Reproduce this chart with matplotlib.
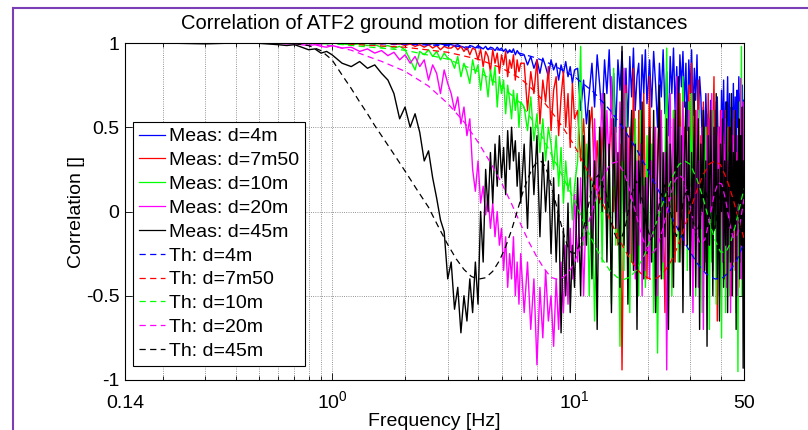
import numpy as np
import matplotlib
matplotlib.use("Agg")
import matplotlib.pyplot as plt
from matplotlib.lines import Line2D
from matplotlib.ticker import LogLocator, NullFormatter, FixedLocator

plt.rcParams['font.family'] = ['Liberation Sans', 'DejaVu Sans']
plt.rcParams['mathtext.fontset'] = 'custom'
plt.rcParams['mathtext.rm'] = 'Liberation Sans'
plt.rcParams['mathtext.it'] = 'Liberation Sans:italic'
plt.rcParams['mathtext.bf'] = 'Liberation Sans:bold'

# ---------------- data ----------------
FREQ = ([0.14, 0.2, 0.3, 0.4, 0.5, 0.6, 0.65, 0.7, 0.75, 0.8, 0.85, 0.9, 0.95]
        + [1.0, 1.1, 1.2, 1.3, 1.4, 1.5, 1.6, 1.7, 1.8, 1.9, 2.0, 2.1, 2.2, 2.3, 2.4, 2.5, 2.6, 2.7, 2.8, 2.9, 3.0]
        + [3.1, 3.2, 3.3, 3.4, 3.5, 3.6, 3.7, 3.8, 3.9, 4.0, 4.1, 4.2, 4.3, 4.4, 4.5, 4.6, 4.7, 4.8, 4.9, 5.0,
           5.1, 5.2, 5.3, 5.4, 5.5, 5.6, 5.7, 5.8, 5.9, 6.0]
        + [6.2, 6.4, 6.6, 6.8, 7.0, 7.2, 7.4, 7.6, 7.8, 8.0, 8.2, 8.4, 8.6, 8.8, 9.0, 9.2, 9.4, 9.6, 9.8, 10.0]
        + [10.3, 10.6, 10.9, 11.2, 11.5, 11.8, 12.1, 12.4, 12.7, 13.0, 13.3, 13.6, 13.9, 14.2, 14.5, 14.8, 15.1,
           15.4, 15.7, 16.0, 16.3, 16.6, 16.9, 17.2, 17.5, 17.8, 18.1, 18.4, 18.7, 19.0, 19.3, 19.6, 19.9]
        + [20.4, 20.8, 21.2, 21.6, 22.0, 22.4, 22.8, 23.2, 23.6, 24.0, 24.4, 24.8, 25.2]
        + [25.6, 26.0, 26.4, 26.8, 27.2, 27.6, 28.0, 28.4, 28.8, 29.2, 29.6, 30.0]
        + [30.4, 30.8, 31.2, 31.6, 32.0, 32.4, 32.8, 33.2, 33.6, 34.0, 34.4, 34.8, 35.2]
        + [35.6, 36.0, 36.4, 36.8, 37.2, 37.6, 38.0, 38.4, 38.8, 39.2, 39.6, 40.0]
        + [40.4, 40.8, 41.2, 41.6, 42.0, 42.4, 42.8, 43.2, 43.6, 44.0, 44.4, 44.8, 45.2, 45.6, 46.0, 46.4, 46.8,
           47.2, 47.6, 48.0, 48.4, 48.8, 49.2, 49.6, 50.0])

MEAS_4M = ([1, 1, 1, 1, 1, 1, 1, 1, 1, 1, 1, 1, 1]
           + [1, 1, 1, 1, 0.998, 1, 0.997, 1, 0.998, 0.995, 1, 0.996, 0.993, 0.998, 0.994, 0.99, 0.997, 0.992, 0.995, 0.99, 0.993]
           + [0.99, 0.985, 0.99, 0.98, 0.975, 0.96, 0.985, 0.98, 0.97, 0.985, 0.975, 0.965, 0.98, 0.96, 0.975,
              0.97, 0.955, 0.975, 0.96, 0.97, 0.95, 0.965, 0.94, 0.96, 0.945, 0.965, 0.93, 0.955, 0.94, 0.925]
           + [0.93, 0.87, 0.92, 0.85, 0.9, 0.82, 0.91, 0.86, 0.8, 0.9, 0.84, 0.88, 0.78, 0.87, 0.82, 0.89, 0.8, 0.86, 0.76, 0.84]
           + [0.85, 0.6, 0.78, 0.52, 0.7, 0.88, 0.62, 0.93, 0.75, 0.55, 0.9, 0.7, 0.96, 0.58, 0.82, 0.47, 0.9,
              0.72, 0.95, 0.63, 0.85, 0.5, 0.92, 0.68, 0.97, 0.6, 0.8, 0.88, 0.55, 0.93, 0.7, 0.96, 0.64]
           + [0.9, 0.62, 0.95, 0.75, 0.5, 0.88, 0.68, 0.96, 0.58, 0.83, 0.45, 0.92, 0.7]
           + [0.97, 0.6, 0.86, 0.52, 0.93, 0.74, 0.95, 0.62, 0.88, 0.48, 0.9, 0.7]
           + [0.96, 0.57, 0.85, 0.66, 0.93, 0.5, 0.8, 0.68, 0.4, 0.62, 0.3, 0.7, 0.45]
           + [0.58, 0.28, 0.66, 0.35, 0.55, 0.22, 0.6, 0.4, 0.68, 0.3, 0.5, 0.25]
           + [0.72, 0.4, 0.78, 0.3, 0.65, 0.5, 0.8, 0.35, 0.7, 0.25, 0.62, 0.45, 0.76, 0.33, 0.68, 0.2, 0.72,
              0.5, 0.8, 0.38, 0.7, 0.28, 0.75, 0.45, 0.66])

MEAS_7M50 = ([1, 1, 1, 1, 1, 1, 1, 1, 1, 1, 1, 1, 1]
             + [1, 1, 1, 0.998, 1, 0.997, 0.995, 1, 0.99, 0.996, 0.985, 0.995, 0.98, 0.99, 0.975, 0.99, 0.97, 0.985, 0.96, 0.98, 0.97]
             + [0.97, 0.985, 0.96, 0.98, 0.95, 0.975, 0.93, 0.97, 0.96, 0.9, 0.965, 0.86, 0.95, 0.92, 0.83,
                0.96, 0.88, 0.94, 0.82, 0.93, 0.87, 0.95, 0.8, 0.9, 0.85, 0.93, 0.78, 0.9, 0.83, 0.88]
             + [0.88, 0.6, 0.83, 0.7, 0.9, 0.52, 0.78, 0.65, 0.86, 0.48, 0.72, 0.8, 0.45, 0.68, 0.83, 0.5, 0.7, 0.38, 0.76, 0.55]
             + [0.6, 0.3, 0.55, 0.2, 0.48, 0.62, 0.15, 0.42, 0.05, 0.5, 0.25, -0.1, 0.35, 0.55, 0.0, 0.3, -0.2,
                0.4, -0.94, 0.2, 0.75, -0.1, 0.5, -0.3, 0.85, 0.1, -0.45, 0.6, 0.2, -0.25, 0.7, 0.05, -0.4]
             + [0.8, -0.2, 0.5, -0.5, 0.3, 0.65, -0.35, 0.1, -0.6, 0.45, -0.15, 0.2, -0.45]
             + [0.6, -0.3, 0.35, -0.1, 0.7, 0.05, -0.4, 0.5, 0.2, -0.2, 0.75, 0.15]
             + [0.88, 0.3, -0.1, 0.6, 0.2, 0.78, -0.2, 0.45, 0.1, 0.65, -0.3, 0.5, 0.2]
             + [0.7, 0.0, 0.55, -0.25, 0.4, 0.8, -0.1, 0.35, -0.65, 0.5, 0.15, 0.6]
             + [-0.2, 0.45, 0.05, -0.4, 0.6, 0.2, -0.3, 0.5, -0.1, 0.3, -0.5, 0.4, 0.0, 0.55, -0.35, 0.25, -0.15,
                0.45, -0.45, 0.3, 0.1, -0.3, 0.5, -0.2, 0.2])

MEAS_10M = ([1, 1, 1, 1, 1, 1, 1, 1, 1, 0.998, 1, 0.997, 0.995]
            + [1, 0.995, 0.99, 0.995, 0.985, 0.99, 0.975, 0.985, 0.97, 0.98, 0.96, 0.9, 0.84, 0.95, 0.93, 0.96, 0.92, 0.95, 0.9, 0.94, 0.91]
            + [0.9, 0.85, 0.92, 0.8, 0.88, 0.83, 0.76, 0.9, 0.82, 0.87, 0.72, 0.85, 0.8, 0.68, 0.84,
               0.75, 0.86, 0.62, 0.8, 0.7, 0.78, 0.58, 0.75, 0.66, 0.55, 0.72, 0.6, 0.7, 0.5, 0.65]
            + [0.62, 0.48, 0.68, 0.42, 0.58, 0.35, 0.55, 0.3, 0.5, 0.4, 0.25, 0.45, 0.15, 0.38, 0.05, 0.3, 0.12, 0.2, -0.05, 0.15]
            + [0.3, 0.98, -0.2, 0.4, -0.5, 0.2, -0.65, 0.1, 0.5, -0.3, 0.65, -0.1, 0.3, -0.55, 0.85, -0.2, 0.15,
               -0.8, 0.4, -0.35, 0.7, -0.1, -0.6, 0.35, -0.3, 0.55, 0.0, -0.5, 0.6, -0.2, 0.2, -0.45, 0.45]
            + [-0.3, 0.4, -0.6, 0.2, -0.84, 0.1, 0.5, -0.4, 0.3, 0.97, -0.2, 0.45, -0.5]
            + [0.6, 0.1, 0.75, -0.3, 0.5, 0.2, 0.8, 0.0, 0.55, -0.35, 0.65, 0.15]
            + [0.7, -0.2, 0.45, -0.5, 0.35, 0.6, -0.1, 0.25, -0.6, 0.4, 0.0, 0.5, -0.45]
            + [0.2, -0.7, 0.35, -0.3, 0.6, -0.1, 0.3, -0.55, 0.15, 0.45, -0.4, 0.1]
            + [-0.75, 0.3, -0.3, 0.2, -0.6, 0.5, -0.2, 0.35, -0.5, 0.1, 0.6, -0.35, 0.4, -0.1, 0.55, -0.6, 0.3,
               -0.95, 0.2, 0.65, -0.3, 0.98, -0.5, 0.3, -0.2])

MEAS_20M = ([1, 1, 1, 1, 1, 0.998, 0.995, 0.997, 0.99, 0.985, 0.99, 0.98, 0.975]
            + [0.985, 0.97, 0.975, 0.95, 0.965, 0.94, 0.955, 0.925, 0.945, 0.9, 0.93, 0.88, 0.92, 0.86, 0.9, 0.78, 0.87, 0.82, 0.7, 0.84, 0.76]
            + [0.7, 0.6, 0.68, 0.52, 0.62, 0.45, 0.55, 0.25, 0.12, 0.3, 0.05, 0.15, -0.02, 0.1, -0.1,
               0.05, -0.15, 0.0, -0.2, -0.1, -0.35, -0.15, -0.45, -0.25, -0.4, -0.15, -0.5, -0.3, -0.55, -0.25]
            + [-0.6, -0.3, -0.7, -0.4, -0.91, -0.45, -0.75, -0.35, -0.65, -0.5, -0.8, -0.4, -0.7, -0.3, -0.6, -0.2, -0.55, -0.1, -0.4, 0.1]
            + [-0.3, 0.2, -0.5, 0.1, 0.4, -0.2, 0.55, 0.1, 0.3, 0.7, 0.05, 0.6, 0.25, 0.8, 0.15, 0.5, -0.1,
               0.65, 0.3, 0.85, 0.0, 0.45, -0.25, 0.55, 0.1, -0.4, 0.3, -0.2, 0.4, -0.5, 0.15, -0.35, 0.2]
            + [-0.4, 0.3, -0.15, 0.5, -0.5, 0.1, 0.6, -0.3, 0.35, -0.94, 0.2, 0.7, 0.0]
            + [0.55, 0.2, 0.8, -0.1, 0.5, 0.25, 0.65, -0.2, 0.4, 0.05, 0.6, -0.35]
            + [0.2, -0.6, 0.4, -0.2, 0.6, -0.45, 0.3, -0.1, 0.5, -0.7, 0.2, -0.3, 0.45]
            + [-0.2, 0.55, 0.0, 0.7, -0.35, 0.45, 0.1, 0.65, -0.2, 0.5, -0.5, 0.35]
            + [0.6, -0.3, 0.4, 0.05, 0.55, -0.45, 0.3, -0.1, 0.5, -0.6, 0.2, 0.45, -0.3, 0.6, -0.1, 0.35, -0.5,
               0.25, 0.5, -0.2, 0.79, -0.4, 0.3, 0.65, 0.1])

MEAS_45M = ([1, 1, 0.995, 1, 0.998, 0.99, 0.985, 0.99, 0.975, 0.96, 0.965, 0.94, 0.95]
            + [0.93, 0.88, 0.86, 0.89, 0.85, 0.87, 0.82, 0.78, 0.7, 0.55, 0.62, 0.5, 0.58, 0.47, 0.3, 0.36, 0.2, 0.08, -0.05, -0.12, -0.4]
            + [-0.3, -0.58, -0.45, -0.72, -0.5, -0.65, -0.4, -0.6, -0.3, -0.55, 0.0, -0.3, 0.25, 0.0, 0.35,
               0.05, 0.4, 0.15, 0.45, 0.2, 0.38, 0.1, 0.48, 0.25, 0.5, 0.3, 0.42, 0.15, 0.35, 0.05]
            + [0.4, -0.1, 0.5, 0.1, 0.45, -0.15, 0.35, 0.0, 0.3, -0.25, 0.2, -0.3, 0.1, -0.72, -0.1, -0.5, 0.05, -0.6, -0.2, -0.45]
            + [0.2, -0.5, 0.45, -0.2, 0.6, -0.4, 0.3, -0.7, 0.5, 0.0, 0.7, -0.3, 0.4, -0.6, 0.55, -0.1, 0.35,
               -0.45, 0.98, -0.2, 0.5, -0.55, 0.25, 0.6, -0.35, 0.4, -0.7, 0.3, 0.05, 0.65, -0.4, 0.2, -0.25]
            + [0.5, -0.3, 0.6, -0.6, 0.2, 0.75, -0.4, 0.35, -0.15, 0.55, -0.7, 0.4, 0.1]
            + [-0.45, 0.6, 0.0, 0.8, -0.3, 0.45, -0.6, 0.3, 0.65, -0.2, 0.5, -0.5]
            + [0.35, -0.1, 0.7, -0.45, 0.25, 0.55, -0.7, 0.4, 0.0, 0.6, -0.35, 0.3, -0.8]
            + [0.45, -0.2, 0.6, 0.1, -0.5, 0.5, -0.1, 0.7, -0.4, 0.25, -0.65, 0.4]
            + [0.0, 0.55, -0.45, 0.3, -0.2, 0.65, -0.6, 0.2, 0.5, -0.3, 0.7, -0.5, 0.35, -0.1, 0.6, -0.7, 0.3,
               0.05, 0.55, -0.4, 0.45, -0.2, 0.62, -0.93, 0.3])

TH_F_4M = [0.14, 0.5, 1, 2, 3, 4, 5, 6, 7, 8, 10, 12, 14, 16, 18, 20, 23, 26, 29, 32, 35, 38, 41, 44, 47, 50]
TH_4M = [1, 1, 1, 0.993, 0.984, 0.972, 0.957, 0.938, 0.91, 0.875, 0.80, 0.708, 0.602, 0.489, 0.371, 0.249,
         0.082, -0.074, -0.205, -0.306, -0.372, -0.401, -0.392, -0.349, -0.280, -0.187]

TH_F_7M50 = [0.14, 0.5, 1, 2, 3, 4, 5, 6, 7, 8, 9, 10, 11, 12, 13, 14, 15, 16, 17, 18, 19, 20.5, 22, 23.5,
             25, 26.5, 28, 30, 32, 34, 36, 38, 40, 42.5, 45, 47.5, 50]
TH_7M50 = [1, 1, 0.998, 0.975, 0.945, 0.904, 0.852, 0.789, 0.701, 0.596, 0.494, 0.39, 0.275, 0.161, 0.054,
           -0.048, -0.142, -0.220, -0.286, -0.338, -0.375, -0.401, -0.394, -0.356, -0.296, -0.215, -0.122,
           0.008, 0.127, 0.221, 0.283, 0.300, 0.277, 0.190, 0.078, -0.05, -0.158]

TH_F_10M = [0.14, 0.5, 1, 2, 3, 4, 5, 6, 7, 8, 9, 10, 11, 12, 13, 14, 15, 16, 17, 18, 19.5, 21, 22.5, 24,
            25.5, 27, 28.5, 30, 32, 34, 36, 38, 40, 42, 44, 46, 48, 50]
TH_10M = [1, 1, 0.996, 0.957, 0.904, 0.832, 0.744, 0.642, 0.503, 0.343, 0.200, 0.064, -0.073, -0.190, -0.283,
          -0.351, -0.391, -0.403, -0.388, -0.348, -0.254, -0.131, 0.0, 0.117, 0.215, 0.280, 0.300, 0.280,
          0.191, 0.075, -0.062, -0.172, -0.240, -0.243, -0.187, -0.087, 0.028, 0.135]

TH_F_20M = [0.14, 0.5, 0.8, 1, 1.2, 1.4, 1.6, 2, 2.5, 3, 3.5, 4, 4.5, 5, 5.5, 6, 6.5, 7, 7.5, 8, 8.5, 9, 9.5,
            10, 11, 12, 13, 14, 15, 16, 17, 18, 19, 20, 21, 22, 23, 24, 25, 26, 27, 28, 29, 30, 31.5, 33,
            34.5, 36, 37.5, 39, 40.5, 42, 43.5, 45, 46.5, 48, 50]
TH_20M = [1, 1, 0.995, 0.983, 0.957, 0.921, 0.891, 0.832, 0.744, 0.641, 0.532, 0.412, 0.290, 0.170, 0.046,
          -0.076, -0.184, -0.271, -0.340, -0.391, -0.403, -0.390, -0.356, -0.303, -0.143, 0.033, 0.187, 0.283,
          0.295, 0.231, 0.114, -0.025, -0.152, -0.232, -0.249, -0.206, -0.116, -0.007, 0.105, 0.185, 0.218,
          0.196, 0.128, 0.029, -0.116, -0.194, -0.166, -0.049, 0.087, 0.172, 0.163, 0.069, -0.060, -0.152,
          -0.159, -0.082, 0.075]

TH_F_45M = [0.14, 0.5, 0.6, 0.7, 0.8, 0.9, 1.0, 1.1, 1.2, 1.3, 1.4, 1.5, 1.6, 1.8, 2.0, 2.25, 2.5,
            2.75, 3.0, 3.25, 3.5, 3.75, 4.0, 4.3, 4.6, 4.9, 5.2, 5.5, 5.8,
            6.1, 6.4, 6.7, 7.0, 7.3, 7.6, 7.9, 8.2, 8.5, 8.8, 9.1, 9.4, 9.7, 10.0,
            10.3, 10.6, 10.9, 11.2, 11.5, 11.8, 12.1,
            12.56, 13.50, 14.37, 15.28, 16.19, 17.09, 17.99, 18.91, 19.83, 20.70,
            21.65, 22.58, 23.51, 24.44, 25.37, 26.31, 27.24, 28.16, 29.09, 30.01,
            30.93, 31.86, 32.79, 33.72, 34.65, 35.58, 36.51, 37.44, 38.36, 39.29,
            40.22, 41.14, 42.07, 42.99, 43.91, 44.83, 45.75, 46.67, 47.59, 48.51, 49.43, 50.0]
TH_45M = [1, 1, 0.999, 0.996, 0.985, 0.955, 0.90, 0.81, 0.73, 0.65, 0.58, 0.51, 0.45, 0.34, 0.24, 0.125, 0.025,
          -0.093, -0.196, -0.281, -0.344, -0.385, -0.402, -0.393, -0.355, -0.292, -0.209, -0.11, 0.0,
          0.107, 0.19, 0.257, 0.293, 0.297, 0.264, 0.19, 0.10, 0.012, -0.075, -0.155, -0.21, -0.245, -0.248,
          -0.223, -0.17, -0.10, -0.02, 0.06, 0.14, 0.19,
          0.218, 0.105, -0.102, -0.196, -0.095, 0.093, 0.180, 0.088, -0.086, -0.167,
          -0.082, 0.080, 0.157, 0.077, -0.075, -0.148, -0.073, 0.071, 0.141, 0.069,
          -0.068, -0.134, -0.066, 0.065, 0.129, 0.063, -0.063, -0.124, -0.061, 0.060,
          0.119, 0.059, -0.058, -0.115, -0.057, 0.056, 0.112, 0.055, -0.055, -0.108, -0.054, 0.015]

DIST_LABELS = ['4m', '7m50', '10m', '20m', '45m']
COLORS = [(0, 0, 1), (1, 0, 0), (0, 1, 0), (1, 0, 1), (0, 0, 0)]
MEAS = [MEAS_4M, MEAS_7M50, MEAS_10M, MEAS_20M, MEAS_45M]
TH_F = [TH_F_4M, TH_F_7M50, TH_F_10M, TH_F_20M, TH_F_45M]
TH = [TH_4M, TH_7M50, TH_10M, TH_20M, TH_45M]

for name, arr in zip(DIST_LABELS, MEAS):
    if len(arr) != len(FREQ):
        raise ValueError(f"meas {name}: {len(arr)} vs {len(FREQ)}")
for name, fa, va in zip(DIST_LABELS, TH_F, TH):
    if len(fa) != len(va):
        raise ValueError(f"th {name}: {len(fa)} vs {len(va)}")

# ---------------- figure ----------------
W, H = 808, 430
fig = plt.figure(figsize=(W / 100, H / 100), dpi=100)
L, R, T, B = 125, 744, 43, 380
ax = fig.add_axes([L / W, 1 - B / H, (R - L) / W, (B - T) / H])

for vals, c, lab in zip(MEAS, COLORS, DIST_LABELS):
    ax.plot(FREQ, vals, color=c, lw=1.0, label='Meas: d=' + lab)
for fa, va, c, lab in zip(TH_F, TH, COLORS, DIST_LABELS):
    ax.plot(fa, va, color=c, lw=0.9, linestyle=(0, (5, 3.5)), label='Th: d=' + lab)

ax.set_xscale('log')
ax.set_xlim(0.14, 50)
ax.set_ylim(-1, 1)
ax.xaxis.set_major_locator(FixedLocator([0.14, 1, 10, 50]))
ax.set_xticklabels(['0.14', r'$\mathregular{10^{0}}$', r'$\mathregular{10^{1}}$', '50'])
ax.xaxis.set_minor_locator(LogLocator(base=10, subs=np.arange(2, 10), numticks=50))
ax.xaxis.set_minor_formatter(NullFormatter())
ax.set_yticks([-1, -0.5, 0, 0.5, 1])
ax.set_yticklabels(['-1', '-0.5', '0', '0.5', '1'])

ax.tick_params(which='both', direction='in', top=True, right=True, labelsize=14, width=0.6)
ax.tick_params(which='major', length=5)
ax.tick_params(which='minor', length=3)
ax.tick_params(axis='x', pad=20)
ax.tick_params(axis='y', pad=4)
for t in ax.xaxis.get_major_ticks():
    t.label1.set_verticalalignment('baseline')

ax.set_axisbelow(True)
ax.grid(True, which='major', linestyle=':', color=(0.45, 0.45, 0.45), lw=0.6)
ax.grid(True, which='minor', axis='x', linestyle=':', color=(0.45, 0.45, 0.45), lw=0.6)
for s in ax.spines.values():
    s.set_linewidth(0.8)
    s.set_color('black')

ax.set_title('Correlation of ATF2 ground motion for different distances', fontsize=14.5, pad=10)
ax.set_xlabel('Frequency [Hz]', fontsize=14)
ax.xaxis.set_label_coords(0.5, (B - 413) / (B - T))
ax.set_ylabel('Correlation []', fontsize=14)
ax.yaxis.set_label_coords((85 - L) / (R - L), 0.5)

leg = ax.legend(loc='upper left', bbox_to_anchor=((133 - L) / (R - L), (B - 122) / (B - T)),
                borderaxespad=0, fontsize=14, frameon=True, fancybox=False, framealpha=1,
                edgecolor='black', handlelength=1.35, handletextpad=0.22, borderpad=0.3,
                labelspacing=0.32)
leg.get_frame().set_linewidth(0.8)
for ln in leg.get_lines():
    ln.set_linewidth(0.9)

# purple frame (top and left edges)
purple = '#7b3fb5'
fig.add_artist(Line2D([13 / W, 13 / W], [0, 1 - 8 / H], transform=fig.transFigure, color=purple, lw=1.5))
fig.add_artist(Line2D([13 / W, 1], [1 - 8 / H, 1 - 8 / H], transform=fig.transFigure, color=purple, lw=1.5))

fig.savefig('out.png', dpi=100)
